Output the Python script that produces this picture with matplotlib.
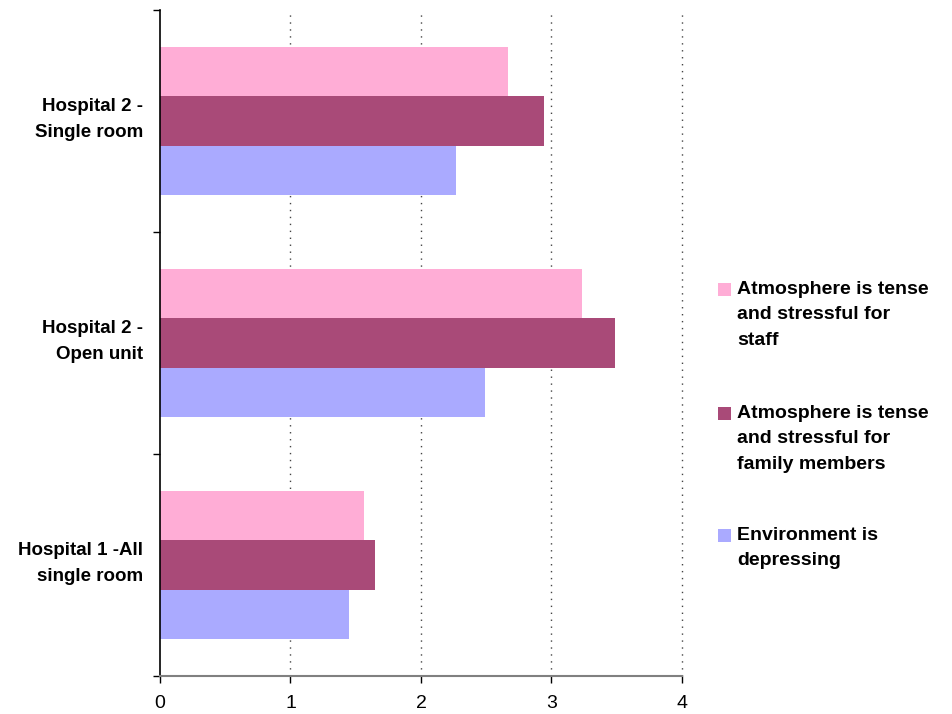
import matplotlib
matplotlib.use("Agg")
import matplotlib.pyplot as plt
from matplotlib.patches import Rectangle
import numpy as np

plt.rcParams['font.family'] = ['Liberation Sans', 'DejaVu Sans']

categories = ["Hospital 1 -All\nsingle room", "Hospital 2 -\nOpen unit", "Hospital 2 -\nSingle room"]
series_names = ["Atmosphere is tense\nand stressful for\nstaff",
                "Atmosphere is tense\nand stressful for\nfamily members",
                "Environment is\ndepressing"]
staff = [1.56, 3.23, 2.67]
family = [1.65, 3.49, 2.94]
depressing = [1.45, 2.49, 2.27]
colors = ["#FFADD6", "#A94A78", "#AAAAFF"]
xticks = [0, 1, 2, 3, 4]

fig = plt.figure(figsize=(9.53, 7.14), dpi=100)
ax = fig.add_axes([160/953, 1-676/714, (682-160)/953, (676-10)/714])

y = np.arange(len(categories))
h = 0.223
ax.barh(y + h, staff, height=h, color=colors[0], linewidth=0)
ax.barh(y, family, height=h, color=colors[1], linewidth=0)
ax.barh(y - h, depressing, height=h, color=colors[2], linewidth=0)

ax.set_xlim(0, 4)
ax.set_ylim(-0.5, len(categories) - 0.5)
ax.set_xticks(xticks)
ax.set_xticklabels([str(v) for v in xticks], fontsize=14)
ax.set_yticks(y + 0.035)
ax.set_yticklabels(categories, fontsize=13.5, fontweight='bold', linespacing=1.7)
ax.set_yticks(np.arange(-0.5, len(categories), 1.0), minor=True)
ax.tick_params(axis='y', which='major', length=0, pad=12)
ax.tick_params(axis='y', which='minor', length=5, width=1, color='black')
ax.tick_params(axis='x', length=5, width=1, color='black', pad=9)

for v in xticks[1:]:
    ax.axvline(v, color='#444444', linestyle=(0, (1, 4)), linewidth=1, zorder=0, clip_on=False)

for s in ['top', 'right']:
    ax.spines[s].set_visible(False)
ax.spines['left'].set_color('black')
ax.spines['left'].set_linewidth(1.2)
ax.spines['bottom'].set_color('#808080')
ax.spines['bottom'].set_linewidth(1.5)

# legend
entry_tops = [283, 407, 529]
for name, col, top in zip(series_names, colors, entry_tops):
    fig.patches.append(Rectangle((718/953, 1-(top+13)/714), 13/953, 13/714,
                                 transform=fig.transFigure, facecolor=col, edgecolor='none'))
    fig.text(737/953, 1-(top-2)/714, name, fontsize=14, fontweight='bold',
             va='top', ha='left', linespacing=1.65)

fig.savefig("out.png", dpi=100)
